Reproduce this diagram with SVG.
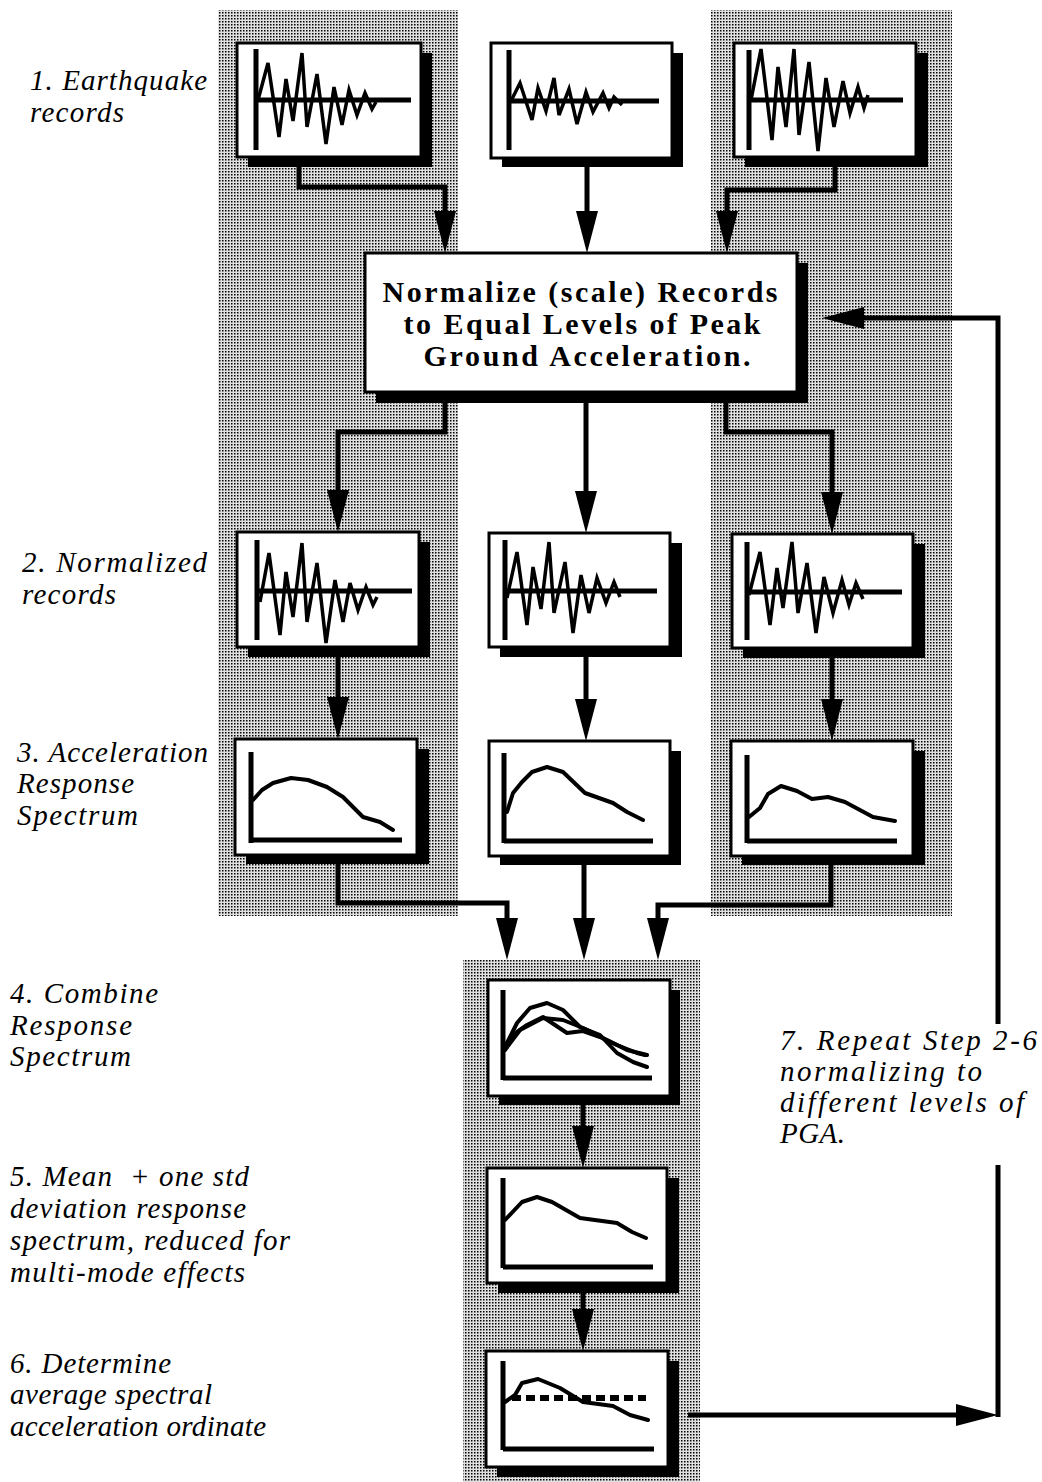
<svg xmlns="http://www.w3.org/2000/svg" width="1042" height="1482" viewBox="0 0 1042 1482">
<defs>
<pattern id="dots" patternUnits="userSpaceOnUse" width="3" height="3">
<rect width="3" height="3" fill="#e0e0e0"/>
<rect width="1.5" height="1.5" fill="#000"/>
</pattern>
<marker id="ah" markerUnits="userSpaceOnUse" viewBox="0 0 42 22" markerWidth="42" markerHeight="22" refX="0" refY="11" orient="auto">
<path d="M0,0 L42,11 L0,22 Z" fill="#000"/>
</marker>
<style>
.shade{fill:url(#dots)}
.box{fill:#fff;stroke:#000;stroke-width:3}
.sh{fill:#000}
.ax{stroke:#000;stroke-width:5;fill:none}
.wave{fill:none;stroke:#000;stroke-width:3.5;stroke-linejoin:miter}
.spec{fill:none;stroke:#000;stroke-width:4;stroke-linejoin:round;stroke-linecap:round}
.conn{fill:none;stroke:#000;stroke-width:5}
.arr{marker-end:url(#ah)}
.lbl{font-family:"Liberation Serif","Times New Roman",serif;font-style:italic;font-size:29px;fill:#000}
.ttl{font-family:"Liberation Serif","Times New Roman",serif;font-weight:bold;font-size:30px;fill:#000;text-anchor:middle}
</style>
</defs>
<rect width="1042" height="1482" fill="#fff"/>

<g id="shading">
<rect class="shade" x="218" y="10" width="240" height="906"/>
<rect class="shade" x="711" y="10" width="241" height="906"/>
<rect class="shade" x="463" y="960" width="237" height="522"/>
</g>

<g id="connectors">
<path class="conn arr" d="M299,167 V187 H445 V211"/>
<path class="conn arr" d="M587,167 V211"/>
<path class="conn arr" d="M835,167 V190 H727 V211"/>
<path class="conn arr" d="M445,403 V432 H338 V490"/>
<path class="conn arr" d="M586,403 V491"/>
<path class="conn arr" d="M726,403 V432 H832 V492"/>
<path class="conn arr" d="M338,657 V697"/>
<path class="conn arr" d="M586,657 V699"/>
<path class="conn arr" d="M832,658 V699"/>
<path class="conn arr" d="M338,864 V903 H507 V918"/>
<path class="conn arr" d="M584,865 V918"/>
<path class="conn arr" d="M831,865 V905 H658 V918"/>
<path class="conn arr" d="M583,1105 V1126"/>
<path class="conn arr" d="M583,1293 V1309"/>
<path class="conn arr" d="M688,1415 H956"/>
<path class="conn" d="M998,1417 V1165"/>
<path class="conn arr" d="M998,1024 V318 H864"/>
</g>

<g id="rec1a">
<rect class="sh" x="248" y="53" width="184" height="114"/>
<rect class="box" x="237" y="43" width="184" height="114"/>
<path class="ax" d="M256,49 V150 M256,100 H411"/>
<polyline class="wave" points="258,100 268,63 279,137 286,79 293,121 302,53 307,127 317,74 326,144 334,87 342,125 349,90 357,115 365,93 372,109 376,102"/>
</g>
<g id="rec1b">
<rect class="sh" x="502" y="53" width="181" height="114"/>
<rect class="box" x="491" y="43" width="181" height="115"/>
<path class="ax" d="M509,50 V150 M509,101 H659"/>
<polyline class="wave" points="511,101 520,83 532,120 538,88 546,111 554,78 559,115 569,89 577,124 586,92 593,112 603,93 609,108 614,97 622,105"/>
</g>
<g id="rec1c">
<rect class="sh" x="745" y="53" width="183" height="114"/>
<rect class="box" x="734" y="43" width="182" height="114"/>
<path class="ax" d="M749,50 V150 M749,100 H903"/>
<polyline class="wave" points="751,100 761,49 772,140 778,67 786,127 794,49 799,135 809,62 818,151 826,78 834,127 843,81 850,113 858,87 864,108 868,95"/>
</g>

<g id="normalize">
<rect class="sh" x="376" y="263" width="432" height="140"/>
<rect class="box" x="365" y="253" width="432" height="139"/>
<text class="ttl" x="580" y="302" textLength="395" lengthAdjust="spacing">Normalize (scale) Records</text>
<text class="ttl" x="582" y="334" textLength="357" lengthAdjust="spacing">to Equal Levels of Peak</text>
<text class="ttl" x="587" y="366" textLength="327" lengthAdjust="spacing">Ground Acceleration.</text>
</g>

<g id="rec2a">
<rect class="sh" x="248" y="542" width="182" height="115"/>
<rect class="box" x="237" y="532" width="182" height="115"/>
<path class="ax" d="M257,540 V640 M257,591 H412"/>
<polyline class="wave" points="260,602 269,553 280,635 286,572 293,617 302,543 307,622 317,563 326,643 335,580 343,622 350,583 358,610 366,587 373,605 377,597"/>
</g>
<g id="rec2b">
<rect class="sh" x="500" y="543" width="182" height="114"/>
<rect class="box" x="489" y="533" width="181" height="114"/>
<path class="ax" d="M505,540 V640 M505,591 H657"/>
<polyline class="wave" points="507,598 517,552 527,625 533,567 541,609 549,542 554,613 565,562 573,633 581,575 589,613 597,578 606,603 614,582 620,597"/>
</g>
<g id="rec2c">
<rect class="sh" x="743" y="544" width="182" height="114"/>
<rect class="box" x="732" y="534" width="181" height="114"/>
<path class="ax" d="M747,542 V640 M747,592 H902"/>
<polyline class="wave" points="749,595 760,552 770,625 777,568 783,608 792,542 798,613 807,563 816,633 824,577 833,613 842,580 849,605 856,583 863,599"/>
</g>

<g id="spec3a">
<rect class="sh" x="246" y="749" width="183" height="115"/>
<rect class="box" x="235" y="739" width="182" height="116"/>
<path class="ax" d="M251,752 V843 M251,840 H402"/>
<polyline class="spec" points="253,800 262,790 273,783 291,778 308,780 327,787 343,797 363,817 380,822 393,830"/>
</g>
<g id="spec3b">
<rect class="sh" x="500" y="751" width="181" height="114"/>
<rect class="box" x="489" y="741" width="181" height="115"/>
<path class="ax" d="M504,753 V843 M504,841 H653"/>
<polyline class="spec" points="507,812 513,793 522,782 532,772 547,767 563,772 585,793 613,803 627,812 643,820"/>
</g>
<g id="spec3c">
<rect class="sh" x="742" y="751" width="183" height="114"/>
<rect class="box" x="731" y="741" width="182" height="115"/>
<path class="ax" d="M747,755 V843 M747,841 H897"/>
<polyline class="spec" points="749,817 760,808 768,794 781,786 797,791 812,799 828,797 845,802 873,817 895,821"/>
</g>

<g id="combine">
<rect class="sh" x="499" y="990" width="181" height="115"/>
<rect class="box" x="488" y="980" width="182" height="116"/>
<path class="ax" d="M503,990 V1080 M503,1078 H652"/>
<polyline class="spec" points="505,1047 517,1023 530,1008 547,1003 563,1010 580,1027 600,1035 617,1053 633,1062 647,1067"/>
<polyline class="spec" points="505,1050 520,1030 543,1018 563,1020 583,1028 607,1040 627,1050 647,1055"/>
<polyline class="spec" points="507,1043 517,1032 527,1025 543,1017 567,1033 583,1031 600,1037 617,1045 637,1053 645,1055"/>
</g>

<g id="mean">
<rect class="sh" x="498" y="1178" width="181" height="115"/>
<rect class="box" x="487" y="1168" width="180" height="115"/>
<path class="ax" d="M503,1178 V1268 M503,1267 H653"/>
<polyline class="spec" points="505,1220 522,1202 537,1197 552,1202 580,1218 617,1223 632,1232 646,1238"/>
</g>

<g id="determine">
<rect class="sh" x="497" y="1361" width="182" height="116"/>
<rect class="box" x="486" y="1351" width="182" height="116"/>
<path class="ax" d="M503,1361 V1450 M503,1449 H654"/>
<polyline class="spec" points="505,1402 515,1395 522,1383 538,1379 560,1388 583,1402 613,1406 630,1415 648,1420"/>
<line x1="512" y1="1398" x2="646" y2="1398" stroke="#000" stroke-width="6" stroke-dasharray="9,5"/>
</g>

<g id="labels">
<text class="lbl" x="30" y="90" textLength="177" lengthAdjust="spacing">1. Earthquake</text>
<text class="lbl" x="30" y="122" textLength="94" lengthAdjust="spacing">records</text>
<text class="lbl" x="22" y="572" textLength="185" lengthAdjust="spacing">2. Normalized</text>
<text class="lbl" x="22" y="604" textLength="94" lengthAdjust="spacing">records</text>
<text class="lbl" x="17" y="762" textLength="191" lengthAdjust="spacing">3. Acceleration</text>
<text class="lbl" x="17" y="793" textLength="117" lengthAdjust="spacing">Response</text>
<text class="lbl" x="17" y="825" textLength="121" lengthAdjust="spacing">Spectrum</text>
<text class="lbl" x="10" y="1003" textLength="148" lengthAdjust="spacing">4. Combine</text>
<text class="lbl" x="10" y="1035" textLength="122" lengthAdjust="spacing">Response</text>
<text class="lbl" x="10" y="1066" textLength="121" lengthAdjust="spacing">Spectrum</text>
<text class="lbl" x="10" y="1186" textLength="239" lengthAdjust="spacing" xml:space="preserve">5. Mean  + one std</text>
<text class="lbl" x="10" y="1218" textLength="236" lengthAdjust="spacing">deviation response</text>
<text class="lbl" x="10" y="1250" textLength="280" lengthAdjust="spacing">spectrum, reduced for</text>
<text class="lbl" x="10" y="1282" textLength="235" lengthAdjust="spacing">multi-mode effects</text>
<text class="lbl" x="10" y="1373" textLength="161" lengthAdjust="spacing">6. Determine</text>
<text class="lbl" x="10" y="1404" textLength="202" lengthAdjust="spacing">average spectral</text>
<text class="lbl" x="10" y="1436" textLength="256" lengthAdjust="spacing">acceleration ordinate</text>
<text class="lbl" x="780" y="1050" textLength="257" lengthAdjust="spacing">7. Repeat Step 2-6</text>
<text class="lbl" x="780" y="1081" textLength="202" lengthAdjust="spacing">normalizing to</text>
<text class="lbl" x="780" y="1112" textLength="244" lengthAdjust="spacing">different levels of</text>
<text class="lbl" x="780" y="1143" textLength="65" lengthAdjust="spacing">PGA.</text>
</g>
</svg>
